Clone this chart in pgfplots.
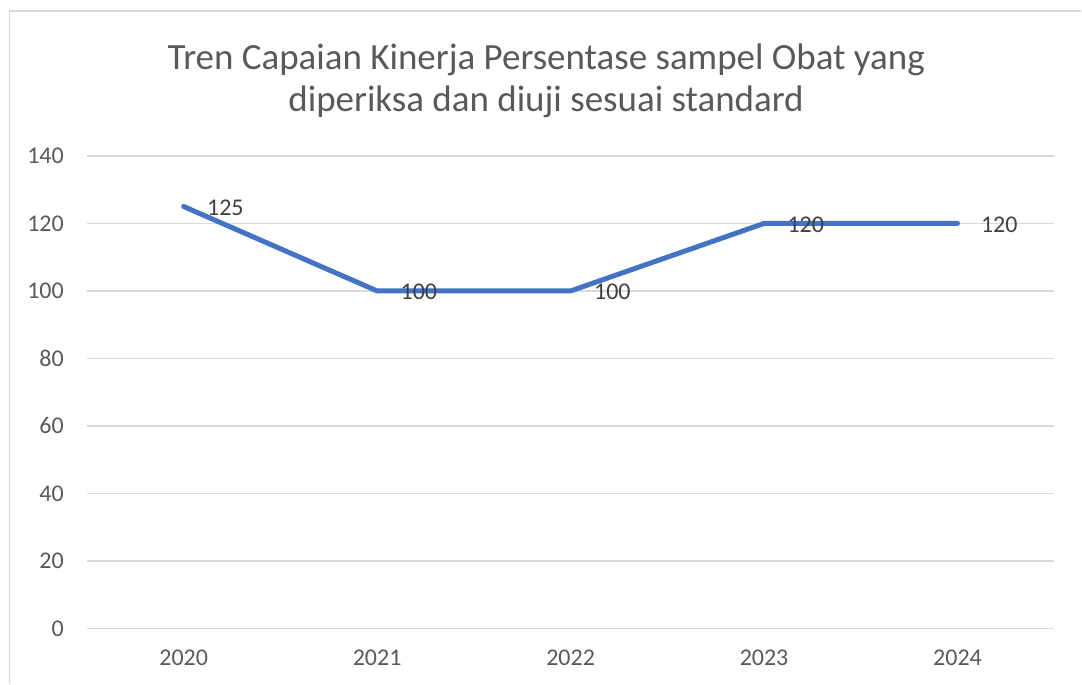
\documentclass[border=0pt]{standalone}
\usepackage{fontspec}
\setmainfont{Carlito}
\usepackage{pgfplots}
\pgfplotsset{compat=1.18}
\definecolor{linec}{HTML}{4472C4}
\definecolor{gridc}{HTML}{D9D9D9}
\definecolor{txtc}{HTML}{595959}
\definecolor{lblc}{HTML}{404040}

\begin{document}
\begin{tikzpicture}[x=1pt,y=1pt]
\path (0,0) rectangle (1082,684);
\draw[gridc, line width=1.5pt] (9.5,0) -- (9.5,673) -- (1082,673);
\node[txtc, align=center, font=\fontsize{37}{41.5}\selectfont] at (546.5,603)
  {Tren Capaian Kinerja Persentase sampel Obat yang\\diperiksa dan diuji sesuai standard};
\begin{axis}[at={(87pt,55pt)}, anchor=south west,
  scale only axis, width=968pt, height=473pt,
  xmin=-0.5, xmax=4.5, ymin=0, ymax=140,
  xtick={0,1,2,3,4}, xticklabels={2020,2021,2022,2023,2024},
  ytick={0,20,40,60,80,100,120,140},
  axis line style={draw=none}, tick style={draw=none},
  ymajorgrids, grid style={gridc, line width=1.3pt},
  /pgf/number format/assume math mode=true,
  ticklabel style={font=\fontsize{24}{26}\selectfont, text=txtc, inner sep=0pt},
  yticklabel style={anchor=east, xshift=-23pt},
  xticklabel style={anchor=north, yshift=-21pt},
  clip=false]
\addplot[linec, line width=5pt, line cap=round, mark=none,
  nodes near coords, point meta=explicit symbolic,
  every node near coord/.style={anchor=west, inner sep=0pt, xshift=21pt,
    yshift=-1pt, text=lblc, font=\fontsize{24}{26}\selectfont}]
  coordinates {(0,125)[125] (1,100)[100] (2,100)[100] (3,120)[120] (4,120)[120]};
\end{axis}
\end{tikzpicture}
\end{document}
